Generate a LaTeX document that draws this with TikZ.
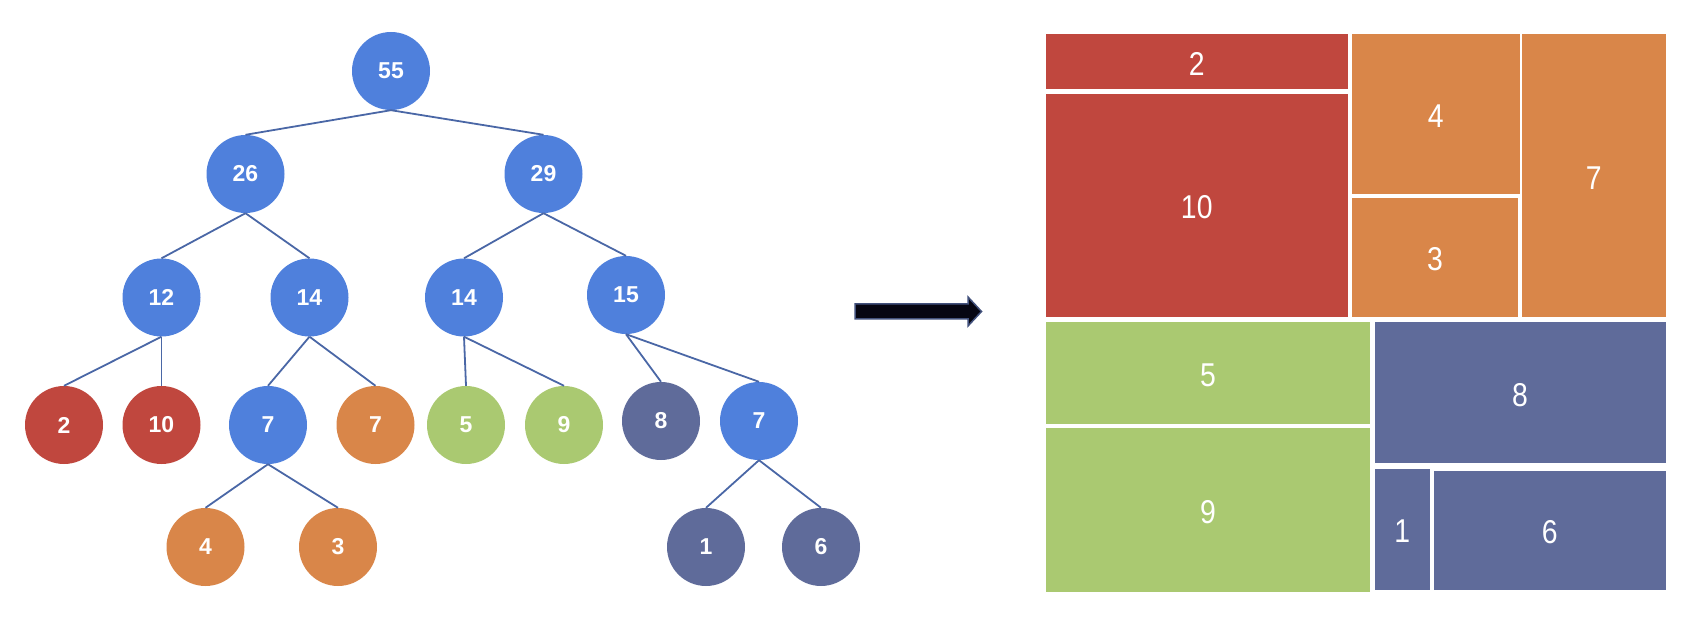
\documentclass[tikz,border=0pt]{standalone}
\usepackage{fontspec}
\setmainfont{Liberation Sans}
\newfontfamily\tilefont{Liberation Sans}[FakeStretch=0.86]
\usepackage{tikz}
\definecolor{sumblue}{HTML}{4F80DC}
\definecolor{leafred}{HTML}{C0473E}
\definecolor{leaforange}{HTML}{D98649}
\definecolor{leafgreen}{HTML}{AAC971}
\definecolor{leafpurple}{HTML}{5F6B9A}
\definecolor{linkblue}{HTML}{4A67A6}
\definecolor{arrowfill}{HTML}{060612}
\definecolor{arrowrim}{HTML}{42517C}
\tikzset{
    ball/.style={circle, fill=#1, minimum size=78pt, inner sep=0pt, text=white,
        font=\bfseries\fontsize{23}{23}\selectfont},
    ball/.default=sumblue,
    tile/.style={text=white, yshift=-2pt, font=\tilefont\fontsize{33}{33}\selectfont},
    link/.style={draw=linkblue, line width=1.8pt},
}

\begin{document}
\begin{tikzpicture}[x=1pt, y=-1pt]
    \useasboundingbox (0,0) rectangle (1698,636);

    \node[ball] (root) at (391, 71) {55};

    \node[ball] (l) at (245.5, 174) {26};
    \node[ball] (r) at (543.5, 174) {29};

    \node[ball] (ll) at (161.5, 297.5) {12};
    \node[ball] (lr) at (309.5, 297.5) {14};
    \node[ball] (rl) at (464, 297.5) {14};
    \node[ball] (rr) at (626, 295) {15};

    \node[ball=leafred] (lll) at (64, 425) {2};
    \node[ball=leafred] (llr) at (161.5, 425) {10};
    \node[ball] (lrl) at (268, 425) {7};
    \node[ball=leaforange] (lrr) at (375.5, 425) {7};
    \node[ball=leafgreen] (rll) at (466, 425) {5};
    \node[ball=leafgreen] (rlr) at (564, 425) {9};
    \node[ball=leafpurple] (rrl) at (661, 421) {8};
    \node[ball] (rrr) at (759, 421) {7};

    \node[ball=leaforange] (lrll) at (205.5, 547) {4};
    \node[ball=leaforange] (lrlr) at (338, 547) {3};
    \node[ball=leafpurple] (rrrl) at (706, 547) {1};
    \node[ball=leafpurple] (rrrr) at (821, 547) {6};

    \draw[link] (root.south) -- (l.north);
    \draw[link] (root.south) -- (r.north);
    \draw[link] (l.south) -- (ll.north);
    \draw[link] (l.south) -- (lr.north);
    \draw[link] (r.south) -- (rl.north);
    \draw[link] (r.south) -- (rr.north);
    \draw[link] (ll.south) -- (lll.north);
    \draw[link] (ll.south) -- (llr.north);
    \draw[link] (lr.south) -- (lrl.north);
    \draw[link] (lr.south) -- (lrr.north);
    \draw[link] (rl.south) -- (rll.north);
    \draw[link] (rl.south) -- (rlr.north);
    \draw[link] (rr.south) -- (rrl.north);
    \draw[link] (rr.south) -- (rrr.north);
    \draw[link] (lrl.south) -- (lrll.north);
    \draw[link] (lrl.south) -- (lrlr.north);
    \draw[link] (rrr.south) -- (rrrl.north);
    \draw[link] (rrr.south) -- (rrrr.north);

    \filldraw[draw=arrowrim, fill=arrowfill, line width=1.5pt]
        (855, 304) -- (968, 304) -- (968, 297) -- (981.5, 311.5)
        -- (968, 326) -- (968, 319) -- (855, 319) -- cycle;

    \fill[leafred] (1046, 34.5) rectangle (1347.5, 89) node[midway, tile] (t2) {2};
    \fill[leafred] (1046, 94) rectangle (1347.5, 317) node[midway, tile] (t10) {10};
    \fill[leaforange] (1352, 34.5) rectangle (1519.5, 194) node[midway, tile] (t4) {4};
    \fill[leaforange] (1352, 198) rectangle (1518, 317) node[midway, tile] (t3) {3};
    \fill[leaforange] (1522, 34.5) rectangle (1665.5, 317) node[midway, tile] (t7) {7};
    \fill[leafgreen] (1046, 322.5) rectangle (1370, 424) node[midway, tile] (t5) {5};
    \fill[leafgreen] (1046, 428) rectangle (1370, 591.5) node[midway, tile] (t9) {9};
    \fill[leafpurple] (1374.5, 322.5) rectangle (1665.5, 463) node[midway, tile] (t8) {8};
    \fill[leafpurple] (1374.5, 468.5) rectangle (1430, 590) node[midway, tile] (t1) {1};
    \fill[leafpurple] (1434, 470.5) rectangle (1665.5, 590) node[midway, tile] (t6) {6};
\end{tikzpicture}
\end{document}
